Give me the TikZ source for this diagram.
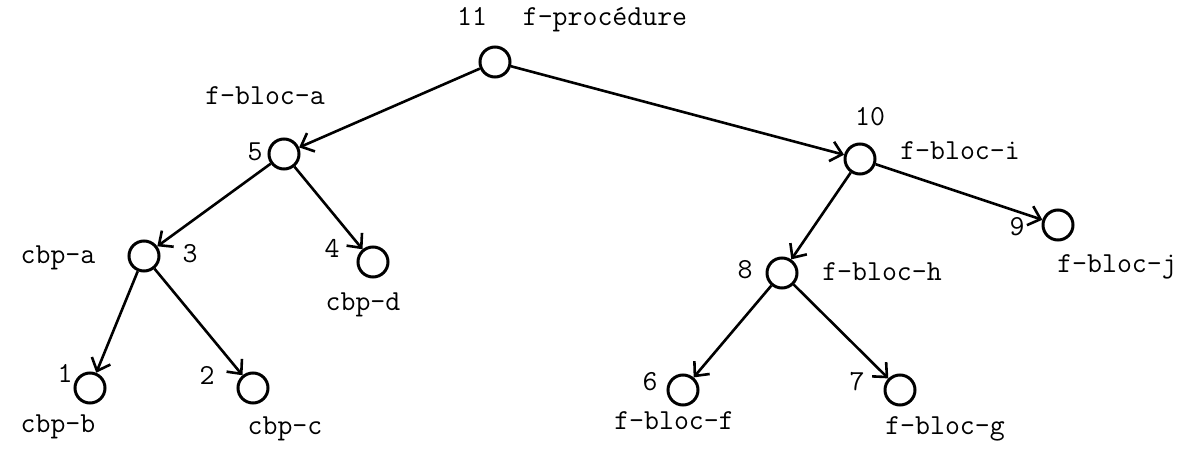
\documentclass[tikz,border=0pt]{standalone}
\usepackage{fontspec}
\usetikzlibrary{arrows.meta, positioning}
\tikzstyle{vertex} = [circle, 
draw=black, 
line width=3pt, 
minimum size=30pt, 
inner sep=0pt]
\tikzstyle{num} = [font=\ttfamily\fontsize{29}{33}\selectfont, 
inner sep=0pt, 
text height=0.7em, 
text depth=0.2em, 
yshift=-5pt]
\tikzstyle{lbl} = [font=\ttfamily\fontsize{29}{33}\selectfont, 
inner sep=0pt, 
text height=0.7em, 
text depth=0.2em, 
yshift=-5pt]
\tikzstyle{arrow} = [line width=2.6pt,-{Straight Barb[length=11pt,width=20pt,line width=2.6pt]}]

\begin{document}
\begin{tikzpicture}[x=1pt, y=-1pt]
        \useasboundingbox (0,0) rectangle (1189,449);

        % sommets
        \node (n11) [vertex] at (495,62) {};
        \node (n5) [vertex] at (284,154) {};
        \node (n10) [vertex] at (860,159) {};
        \node (n3) [vertex] at (144,256) {};
        \node (n4) [vertex] at (373,262) {};
        \node (n9) [vertex] at (1058,225) {};
        \node (n8) [vertex] at (782,273) {};
        \node (n1) [vertex] at (90,388) {};
        \node (n2) [vertex] at (253,388) {};
        \node (n6) [vertex] at (683,390) {};
        \node (n7) [vertex] at (900,390) {};

        % numeros
        \node (num11) [num] at (472,18) {11};
        \node (num5) [num] at (255,153) {5};
        \node (num10) [num] at (870,118) {10};
        \node (num3) [num] at (190,255) {3};
        \node (num4) [num] at (332,250) {4};
        \node (num9) [num] at (1017,228) {9};
        \node (num8) [num] at (745,271) {8};
        \node (num1) [num] at (65,375) {1};
        \node (num2) [num] at (207,377) {2};
        \node (num6) [num] at (650,383) {6};
        \node (num7) [num] at (857,383) {7};

        % noms
        \node (txt11) [lbl] at (605,18) {f-procédure};
        \node (txt5) [lbl] at (265,97) {f-bloc-a};
        \node (txt10) [lbl] at (960,152) {f-bloc-i};
        \node (txt3) [lbl] at (58,256) {cbp-a};
        \node (txt4) [lbl] at (363,303) {cbp-d};
        \node (txt9) [lbl] at (1117,265) {f-bloc-j};
        \node (txt8) [lbl] at (882,273) {f-bloc-h};
        \node (txt1) [lbl] at (58,425) {cbp-b};
        \node (txt2) [lbl] at (285,427) {cbp-c};
        \node (txt6) [lbl] at (674,422) {f-bloc-f};
        \node (txt7) [lbl] at (945,427) {f-bloc-g};

        \draw [arrow] (n11) -- (n5);
        \draw [arrow] (n11) -- (n10);
        \draw [arrow] (n5) -- (n3);
        \draw [arrow] (n5) -- (n4);
        \draw [arrow] (n3) -- (n1);
        \draw [arrow] (n3) -- (n2);
        \draw [arrow] (n10) -- (n8);
        \draw [arrow] (n10) -- (n9);
        \draw [arrow] (n8) -- (n6);
        \draw [arrow] (n8) -- (n7);

    \end{tikzpicture}
\end{document}
